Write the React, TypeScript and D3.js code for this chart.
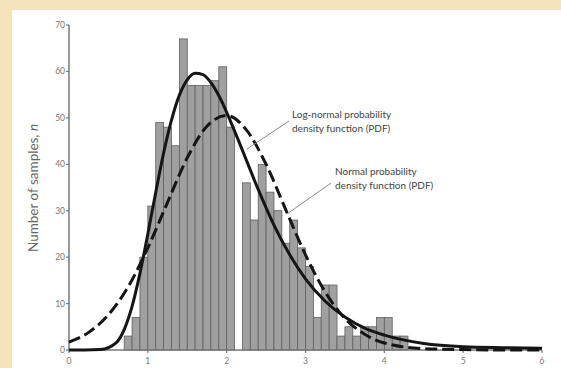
import * as d3 from "d3";

// histogram: lower edge of each 0.1-wide bin and the sample count in it
const binLow = [
  0.7, 0.8, 0.9, 1.0, 1.1, 1.2, 1.3, 1.4, 1.5, 1.6, 1.7, 1.8, 1.9, 2.0, 2.1, 2.2, 2.3, 2.4, 2.5,
  2.6, 2.7, 2.8, 2.9, 3.0, 3.1, 3.2, 3.3, 3.4, 3.5, 3.6, 3.7, 3.8, 3.9, 4.0, 4.1, 4.2,
];
const counts = [
  3, 7, 20, 31, 49, 48, 44, 67, 57, 57, 57, 58, 61, 48, 0, 36, 28, 40, 34,
  30, 23, 28, 22, 18, 7, 14, 14, 3, 5, 3, 5, 5, 7, 7, 3, 3,
];
const binWidth = 0.1;

// fitted curves
const logNormX = [0, 0.2, 0.4, 0.6, 0.7, 0.8, 0.9, 1.0, 1.1, 1.2, 1.3, 1.4, 1.5, 1.6, 1.7, 1.8, 1.9, 2.0, 2.2, 2.4, 2.6, 2.8, 3.0, 3.25, 3.5, 3.75, 4.0, 4.5, 5.0, 5.5, 6.0];
const logNormY = [0, 0, 0.1, 1.6, 4.4, 9.4, 16.5, 25.0, 33.9, 42.4, 49.5, 54.9, 58.2, 59.6, 59.3, 57.6, 54.8, 51.2, 43.0, 34.6, 26.9, 20.5, 15.3, 10.5, 7.1, 4.7, 3.2, 1.4, 0.7, 0.5, 0.4];

const normalX = [0, 0.25, 0.5, 0.75, 1.0, 1.25, 1.5, 1.75, 2.0, 2.25, 2.5, 2.75, 3.0, 3.25, 3.5, 3.75, 4.0, 4.5, 5.0, 5.5, 6.0];
const normalY = [1.7, 3.8, 7.6, 13.6, 22.0, 31.8, 41.4, 48.2, 50.5, 47.4, 40.0, 30.2, 20.5, 12.5, 6.8, 3.4, 1.5, 0.3, 0.1, 0, 0];

const xTicks = [0, 1, 2, 3, 4, 5, 6];
const yTicks = [0, 10, 20, 30, 40, 50, 60, 70];

const font = "Lato, 'Open Sans', sans-serif";

export default function App() {
  const width = 561;
  const height = 368;
  const x = d3.scaleLinear().domain([0, 6]).range([69, 542]);
  const y = d3.scaleLinear().domain([0, 70]).range([350, 25]);

  const line = d3
    .line<[number, number]>()
    .x((d) => x(d[0]))
    .y((d) => y(d[1]))
    .curve(d3.curveMonotoneX);

  const logNormPath = line(logNormX.map((v, i) => [v, logNormY[i]]));
  const normalPath = line(normalX.map((v, i) => [v, normalY[i]]));

  return (
    <div style={{ position: "fixed", left: 0, top: 0 }}>
      <svg width={width} height={height} style={{ display: "block" }}>
        <rect x={0} y={0} width={width} height={height} fill="#f5e4bb" />
        <rect x={12} y={10} width={width - 12} height={height - 10} fill="#ffffff" />

        {/* bars */}
        <g>
          {counts.map((c, i) =>
            c > 0 ? (
              <rect
                key={i}
                x={x(binLow[i])}
                y={y(c)}
                width={x(binLow[i] + binWidth) - x(binLow[i])}
                height={y(0) - y(c)}
                fill="#a0a0a0"
                stroke="#606060"
                strokeWidth={0.8}
              />
            ) : null
          )}
        </g>

        {/* axes */}
        <line x1={x(0)} x2={x(6)} y1={y(0)} y2={y(0)} stroke="#777" strokeWidth={1.5} />
        <line x1={x(0)} x2={x(0)} y1={y(0)} y2={y(70)} stroke="#777" strokeWidth={1.5} />
        {yTicks.map((t) => (
          <g key={t}>
            <line x1={x(0) - 3} x2={x(0)} y1={y(t)} y2={y(t)} stroke="#777" strokeWidth={1.2} />
            <text x={x(0) - 4} y={y(t)} dy="0.35em" textAnchor="end" fontSize={8.5} fill="#777" fontFamily={font}>
              {t}
            </text>
          </g>
        ))}
        {xTicks.map((t) => (
          <g key={t}>
            <line x1={x(t)} x2={x(t)} y1={y(0)} y2={y(0) + 3} stroke="#777" strokeWidth={1.2} />
            <text x={x(t)} y={y(0) + 14} textAnchor="middle" fontSize={8.5} fill="#777" fontFamily={font}>
              {t}
            </text>
          </g>
        ))}

        <text
          transform={`translate(38,188) rotate(-90)`}
          textAnchor="middle"
          fontSize={13.5}
          fill="#666"
          fontFamily={font}
        >
          Number of samples, <tspan fontStyle="italic">n</tspan>
        </text>

        {/* curves */}
        <path d={normalPath ?? ""} fill="none" stroke="#151515" strokeWidth={3} strokeDasharray="12,5" />
        <path d={logNormPath ?? ""} fill="none" stroke="#151515" strokeWidth={3} />

        {/* annotations */}
        <line x1={289} y1={121} x2={247} y2={149} stroke="#8a8a8a" strokeWidth={1} />
        <text x={292} y={118} fontSize={10} fill="#444" fontFamily={font}>
          Log-normal probability
        </text>
        <text x={292} y={132} fontSize={10} fill="#444" fontFamily={font}>
          density function (PDF)
        </text>

        <line x1={331} y1={183} x2={287} y2={214} stroke="#8a8a8a" strokeWidth={1} />
        <text x={335} y={175} fontSize={10} fill="#444" fontFamily={font}>
          Normal probability
        </text>
        <text x={335} y={189} fontSize={10} fill="#444" fontFamily={font}>
          density function (PDF)
        </text>
      </svg>
    </div>
  );
}
